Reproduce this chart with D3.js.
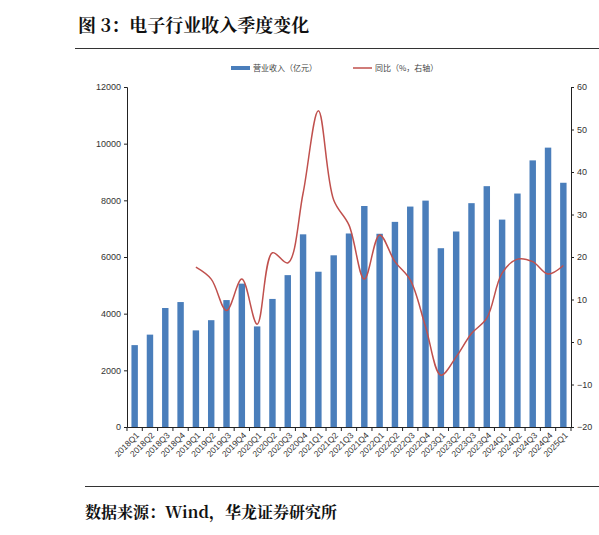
<!DOCTYPE html>
<html>
<head>
<meta charset="utf-8">
<script src="https://cdn.jsdelivr.net/npm/d3@7"></script>
<style>
  body { margin: 0; background: #fff; }
  svg { display: block; }
</style>
</head>
<body>
<svg id="chart" width="599" height="535"></svg>
<script>
// quarters
var quarters = ["2018Q1","2018Q2","2018Q3","2018Q4","2019Q1","2019Q2","2019Q3","2019Q4",
	"2020Q1","2020Q2","2020Q3","2020Q4","2021Q1","2021Q2","2021Q3","2021Q4",
	"2022Q1","2022Q2","2022Q3","2022Q4","2023Q1","2023Q2","2023Q3","2023Q4",
	"2024Q1","2024Q2","2024Q3","2024Q4","2025Q1"];

// 营业收入（亿元）
var revenue = [2890, 3260, 4200, 4410, 3410, 3770, 4480, 5060,
	3550, 4520, 5360, 6800, 5480, 6060, 6830, 7800,
	6820, 7240, 7780, 7990, 6310, 6900, 7900, 8500,
	7320, 8240, 9410, 9860, 8620];

// 同比（%）, starts 2019Q1
var yoy = [null, null, null, null, 17.6, 14.8, 7.4, 14.8,
	4.2, 21, 18.6, 35, 54.4, 33.4, 27.5, 14.8,
	25.2, 18.9, 14.6, 3.6, -7.8, -3.5, 2, 5.6,
	16.2, 19.5, 18.9, 16, 18];

var leftTicks = [0, 2000, 4000, 6000, 8000, 10000, 12000];
var rightTicks = [-20, -10, 0, 10, 20, 30, 40, 50, 60];

(function() {
var svg = d3.select("#chart");
var mLeft = 127, mRight = 571, mTop = 87, mBottom = 427;
var cjk = "'Noto Sans CJK SC', 'Noto Sans', sans-serif";
var serifCjk = "'Noto Serif CJK SC', 'Noto Sans CJK SC', serif";

/* title + rules */
svg.append("text")
	.attr("x", 78).attr("y", 32)
	.attr("font-family", serifCjk)
	.attr("font-weight", "bold")
	.attr("font-size", "18px")
	.attr("fill", "#111")
	.text("图 3：电子行业收入季度变化");

svg.append("line")
	.attr("x1", 75).attr("x2", 599).attr("y1", 48.5).attr("y2", 48.5)
	.attr("stroke", "#333").attr("stroke-width", 1.2);

svg.append("line")
	.attr("x1", 85).attr("x2", 599).attr("y1", 486.5).attr("y2", 486.5)
	.attr("stroke", "#333").attr("stroke-width", 1.2);

svg.append("text")
	.attr("x", 85).attr("y", 518)
	.attr("font-family", serifCjk)
	.attr("font-weight", "bold")
	.attr("font-size", "16px")
	.attr("fill", "#111")
	.text("数据来源：Wind，华龙证券研究所");

/* scales */
var x = d3.scaleBand()
	.domain(quarters)
	.range([mLeft, mRight])
	.paddingInner(0.58)
	.paddingOuter(0.29);

var yL = d3.scaleLinear().domain([0, 12000]).range([mBottom, mTop]);
var yR = d3.scaleLinear().domain([-20, 60]).range([mBottom, mTop]);

/* bars */
svg.append("g").selectAll("rect")
	.data(revenue)
	.enter()
	.append("rect")
	.attr("x", function(d, i) { return x(quarters[i]); })
	.attr("y", function(d) { return yL(d); })
	.attr("width", x.bandwidth())
	.attr("height", function(d) { return mBottom - yL(d); })
	.attr("fill", "#4a7ebb");

/* line */
var line = d3.line()
	.defined(function(d) { return d != null; })
	.x(function(d, i) { return x(quarters[i]) + x.bandwidth() / 2; })
	.y(function(d) { return yR(d); })
	.curve(d3.curveCatmullRom.alpha(0.5));

svg.append("path")
	.datum(yoy)
	.attr("d", line)
	.attr("fill", "none")
	.attr("stroke", "#c0504d")
	.attr("stroke-width", 1.5);

/* axes */
var axisFont = "'Liberation Sans', Arial, sans-serif";

var gL = svg.append("g")
	.attr("transform", "translate(" + mLeft + ",0)")
	.call(d3.axisLeft(yL).tickValues(leftTicks).tickSize(3).tickFormat(d3.format("d")));

var gR = svg.append("g")
	.attr("transform", "translate(" + mRight + ",0)")
	.call(d3.axisRight(yR).tickValues(rightTicks).tickSize(3).tickFormat(d3.format("d")));

var gX = svg.append("g")
	.attr("transform", "translate(0," + mBottom + ")")
	.call(d3.axisBottom(x).tickSize(4).tickSizeOuter(0));

gX.selectAll(".tick line")
	.attr("transform", "translate(" + (-x.step() / 2) + ",0)");

gX.append("line")
	.attr("x1", mRight).attr("x2", mRight).attr("y1", 0).attr("y2", 4)
	.attr("stroke", "#222");

[gL, gR, gX].forEach(function(g) {
	g.select(".domain").attr("stroke", "#222");
	g.selectAll(".tick line").attr("stroke", "#222");
	g.selectAll("text")
		.attr("font-family", axisFont)
		.attr("font-size", "9px")
		.attr("fill", "#333");
});

gL.selectAll("text").attr("x", -6);
gR.selectAll("text").attr("x", 6);

gX.selectAll("text")
	.attr("text-anchor", "end")
	.attr("font-size", "8.5px")
	.attr("dy", 0)
	.attr("y", 0)
	.attr("transform", "translate(5,9) rotate(-45)");

/* legend */
var lg = svg.append("g").attr("font-family", cjk).attr("font-size", "8px").attr("fill", "#444");
lg.append("rect").attr("x", 231).attr("y", 66).attr("width", 19).attr("height", 4).attr("fill", "#4a7ebb");
lg.append("text").attr("x", 253).attr("y", 71).text("营业收入（亿元）");
lg.append("line").attr("x1", 353).attr("x2", 372).attr("y1", 68).attr("y2", 68)
	.attr("stroke", "#c0504d").attr("stroke-width", 1.5);
lg.append("text").attr("x", 375).attr("y", 71).text("同比（%，右轴）");
})();
</script>
</body>
</html>
